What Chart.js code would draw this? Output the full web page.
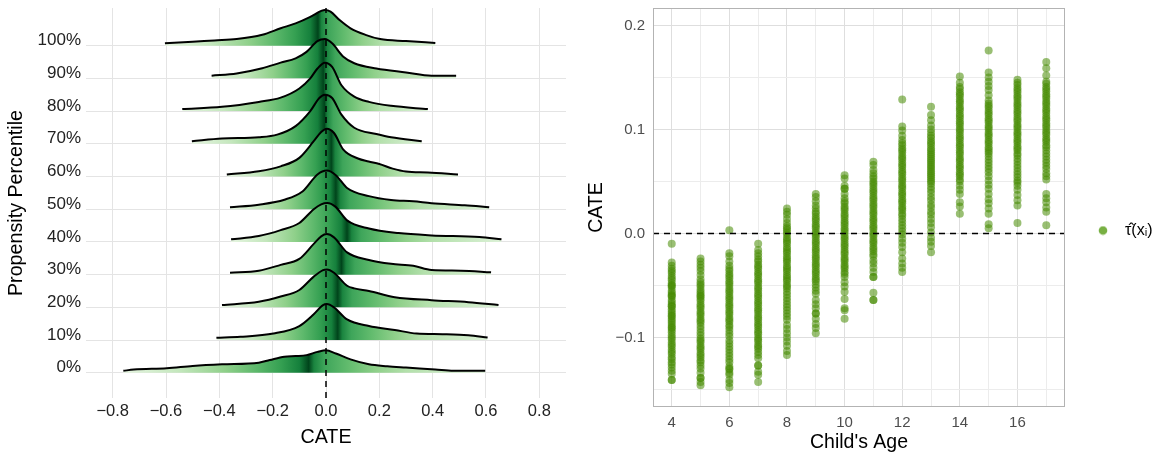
<!DOCTYPE html>
<html>
<head>
<meta charset="utf-8">
<script src="https://cdn.jsdelivr.net/npm/chart.js@4.4.1/dist/chart.umd.min.js"></script>
<style>
  html, body { margin: 0; padding: 0; background: #fff; }
  #wrap { position: relative; width: 1158px; height: 453px; }
  #ridgeBox { position: absolute; left: 0; top: 0; width: 580px; height: 453px; }
  #ageBox { position: absolute; left: 580px; top: 0; width: 578px; height: 453px; }
</style>
</head>
<body>
<div id="wrap">
  <div id="ridgeBox"><canvas id="ridgeChart" width="580" height="453"></canvas></div>
  <div id="ageBox"><canvas id="ageChart" width="578" height="453"></canvas></div>
</div>
<script>
Chart.defaults.font.family = "'Liberation Sans', Arial, sans-serif";
Chart.defaults.animation = false;

// ---------- left panel: CATE by propensity percentile ----------
const ridgeLabels = ['0%', '10%', '20%', '30%', '40%', '50%', '60%', '70%', '80%', '90%', '100%'];
const cateTicks = [-0.8, -0.6, -0.4, -0.2, 0, 0.2, 0.4, 0.6, 0.8];

// [CATE, density height] per ridge, height in units of the gap between ridges
const ridge0 = [[-0.76, 0.06], [-0.721, 0.10], [-0.597, 0.14], [-0.50, 0.21], [-0.39, 0.26], [-0.252, 0.31], [-0.211, 0.39], [-0.156, 0.49], [-0.114, 0.51], [-0.073, 0.54], [-0.032, 0.64], [0.0, 0.69], [0.037, 0.59], [0.092, 0.41], [0.161, 0.26], [0.23, 0.20], [0.30, 0.16], [0.41, 0.10], [0.478, 0.06], [0.597, 0.06]];
const ridge10 = [[-0.411, 0.07], [-0.321, 0.10], [-0.197, 0.20], [-0.10, 0.43], [-0.046, 0.79], [-0.011, 1.07], [0.003, 1.10], [0.03, 1.00], [0.079, 0.63], [0.161, 0.43], [0.258, 0.31], [0.34, 0.20], [0.437, 0.18], [0.534, 0.15], [0.606, 0.08]];
const ridge20 = [[-0.39, 0.07], [-0.252, 0.17], [-0.17, 0.33], [-0.10, 0.53], [-0.046, 0.94], [-0.011, 1.14], [0.003, 1.16], [0.03, 1.06], [0.079, 0.66], [0.106, 0.58], [0.161, 0.50], [0.258, 0.31], [0.396, 0.22], [0.534, 0.16], [0.647, 0.07]];
const ridge30 = [[-0.36, 0.06], [-0.252, 0.12], [-0.17, 0.30], [-0.10, 0.48], [-0.046, 0.94], [-0.018, 1.17], [0.003, 1.24], [0.03, 1.14], [0.079, 0.68], [0.161, 0.45], [0.244, 0.33], [0.327, 0.27], [0.396, 0.14], [0.506, 0.12], [0.619, 0.07]];
const ridge40 = [[-0.356, 0.08], [-0.252, 0.18], [-0.17, 0.36], [-0.10, 0.58], [-0.046, 1.00], [-0.018, 1.15], [0.005, 1.19], [0.035, 1.08], [0.079, 0.66], [0.161, 0.41], [0.272, 0.27], [0.396, 0.20], [0.575, 0.15], [0.658, 0.08]];
const ridge50 = [[-0.36, 0.06], [-0.252, 0.14], [-0.156, 0.29], [-0.087, 0.55], [-0.032, 1.06], [0.003, 1.18], [0.037, 1.04], [0.079, 0.65], [0.161, 0.40], [0.244, 0.28], [0.327, 0.24], [0.396, 0.18], [0.52, 0.12], [0.612, 0.06]];
const ridge60 = [[-0.372, 0.06], [-0.252, 0.16], [-0.17, 0.31], [-0.10, 0.57], [-0.046, 1.08], [-0.018, 1.36], [0.003, 1.46], [0.03, 1.33], [0.065, 0.82], [0.12, 0.55], [0.16, 0.46], [0.20, 0.38], [0.25, 0.24], [0.30, 0.15], [0.382, 0.12], [0.495, 0.06]];
const ridge70 = [[-0.503, 0.08], [-0.39, 0.16], [-0.252, 0.20], [-0.183, 0.28], [-0.114, 0.54], [-0.059, 1.00], [-0.025, 1.40], [-0.004, 1.50], [0.023, 1.40], [0.058, 0.89], [0.106, 0.49], [0.189, 0.30], [0.244, 0.20], [0.359, 0.08]];
const ridge80 = [[-0.539, 0.06], [-0.39, 0.13], [-0.252, 0.28], [-0.17, 0.41], [-0.10, 0.69], [-0.059, 1.00], [-0.032, 1.30], [-0.004, 1.48], [0.023, 1.35], [0.058, 0.79], [0.106, 0.44], [0.161, 0.28], [0.244, 0.16], [0.382, 0.06]];
const ridge90 = [[-0.429, 0.08], [-0.335, 0.15], [-0.239, 0.31], [-0.17, 0.48], [-0.114, 0.61], [-0.073, 0.81], [-0.032, 1.14], [-0.004, 1.20], [0.023, 1.07], [0.065, 0.66], [0.106, 0.46], [0.189, 0.30], [0.30, 0.18], [0.396, 0.08], [0.488, 0.08]];
const ridge100 = [[-0.604, 0.07], [-0.50, 0.12], [-0.418, 0.16], [-0.335, 0.20], [-0.239, 0.33], [-0.17, 0.53], [-0.114, 0.68], [-0.059, 0.88], [-0.018, 1.06], [-0.004, 1.09], [0.017, 1.04], [0.051, 0.78], [0.092, 0.53], [0.148, 0.33], [0.203, 0.20], [0.30, 0.14], [0.41, 0.08]];

// where each ridge's fill is darkest
const ridgeMedians = [-0.065, 0.044, 0.044, 0.058, 0.079, 0.037, 0.02, -0.006, -0.01, -0.01, -0.03];

const ridges = [ridge0, ridge10, ridge20, ridge30, ridge40, ridge50, ridge60, ridge70, ridge80, ridge90, ridge100];

// green ramp: light tail -> dark median -> light tail
const leftStops = [[0, '#e6f5e1'], [0.3, '#c4e7bd'], [0.55, '#8fd08a'], [0.72, '#5cb86b'], [0.85, '#35a052'], [0.95, '#15803c'], [1, '#00441b']];
const rightStops = [[0, '#00441b'], [0.03, '#1a843f'], [0.09, '#3ea55a'], [0.22, '#61bb6d'], [0.38, '#8fd08a'], [0.55, '#b3e0ab'], [1, '#dcf1d7']];

const xMinL = -0.9, xMaxL = 0.9, yMinL = -0.77, yMaxL = 11.15;

function fmtCate(v) {
  return (v < 0 ? '\u2212' : '') + Math.abs(v).toFixed(1);
}

function ridgeFill(i) {
  return (context) => {
    const chart = context.chart;
    const xs = chart.scales.x;
    if (!chart.chartArea || !xs) return '#74c476';
    const pts = ridges[i];
    const x0 = xs.getPixelForValue(pts[0][0]);
    const x1 = xs.getPixelForValue(pts[pts.length - 1][0]);
    const xm = xs.getPixelForValue(ridgeMedians[i]);
    const span = x1 - x0;
    const g = chart.ctx.createLinearGradient(x0, 0, x1, 0);
    leftStops.forEach(([f, c]) => g.addColorStop(((xm - x0) * f) / span, c));
    rightStops.forEach(([f, c]) => g.addColorStop((xm - x0 + (x1 - xm) * f) / span, c));
    return g;
  };
}

// vertical axes: drop the half-label padding Chart.js reserves at the ends
function noEndPadding(s) {
  s.paddingTop = 0;
  s.paddingBottom = 0;
}

const ridgeSets = ridges.map((pts, i) => ({
  data: pts.map(([x, h]) => ({ x: x, y: i + h })),
  borderColor: '#000000',
  borderWidth: 2,
  pointRadius: 0,
  cubicInterpolationMode: 'monotone',
  fill: { value: i },
  backgroundColor: ridgeFill(i)
}));

const zeroLineV = {
  data: [{ x: 0, y: yMinL }, { x: 0, y: yMaxL }],
  borderColor: '#000000',
  borderWidth: 1.5,
  borderDash: [6, 5],
  pointRadius: 0,
  fill: false
};

new Chart(document.getElementById('ridgeChart'), {
  type: 'line',
  data: { datasets: [zeroLineV, ...ridgeSets] },
  options: {
    responsive: false,
    animation: false,
    layout: { padding: { left: 0, right: 14, top: 8, bottom: 0 } },
    plugins: { legend: { display: false }, tooltip: { enabled: false } },
    scales: {
      x: {
        type: 'linear',
        min: xMinL,
        max: xMaxL,
        afterBuildTicks: s => { s.ticks = cateTicks.map(v => ({ value: v })); },
        afterFit: s => { s.height = 55; },
        ticks: { padding: 4, color: '#222222', font: { size: 16.5 }, maxRotation: 0, autoSkip: false, callback: v => fmtCate(v) },
        grid: { color: '#e4e4e4', lineWidth: 1, drawTicks: false },
        border: { display: false },
        title: { display: true, text: 'CATE', color: '#000000', font: { size: 19.7 }, padding: { top: 0, bottom: 4 } }
      },
      y: {
        type: 'linear',
        min: yMinL,
        max: yMaxL,
        afterBuildTicks: s => { s.ticks = ridgeLabels.map((_, i) => ({ value: i })); },
        afterFit: s => { s.width = 86; noEndPadding(s); },
        ticks: { padding: 5, color: '#222222', font: { size: 17 }, labelOffset: -5, callback: (v, i) => ridgeLabels[i] },
        grid: { color: '#e4e4e4', lineWidth: 1, drawTicks: false },
        border: { display: false },
        title: { display: true, text: 'Propensity Percentile', color: '#000000', font: { size: 19.7 }, padding: { top: 5, bottom: 0 } }
      }
    }
  }
});

// ---------- right panel: CATE by child's age ----------
const ages = [4, 5, 6, 7, 8, 9, 10, 11, 12, 13, 14, 15, 16, 17];
const ageLabelTicks = [4, 6, 8, 10, 12, 14, 16];
const cateMajorTicks = [-0.1, 0, 0.1, 0.2];
const cateAllTicks = [-0.15, -0.1, -0.05, 0, 0.05, 0.1, 0.15, 0.2];

const cateAge4 = [-0.010, -0.028, -0.031, -0.034, -0.036, -0.038, -0.041, -0.043, -0.045, -0.048, -0.050, -0.050, -0.052, -0.055, -0.057, -0.059, -0.060, -0.061, -0.064, -0.066, -0.068, -0.070, -0.070, -0.073, -0.075, -0.077, -0.079, -0.080, -0.082, -0.084, -0.086, -0.088, -0.090, -0.091, -0.093, -0.095, -0.098, -0.100, -0.102, -0.105, -0.107, -0.109, -0.112, -0.114, -0.116, -0.119, -0.121, -0.124, -0.126, -0.129, -0.132, -0.135, -0.141, -0.141];
const cateAge5 = [-0.024, -0.027, -0.030, -0.033, -0.036, -0.040, -0.044, -0.047, -0.049, -0.051, -0.054, -0.056, -0.058, -0.060, -0.061, -0.063, -0.065, -0.068, -0.070, -0.072, -0.075, -0.077, -0.079, -0.082, -0.084, -0.086, -0.089, -0.092, -0.095, -0.098, -0.101, -0.103, -0.105, -0.108, -0.110, -0.112, -0.115, -0.117, -0.119, -0.122, -0.124, -0.127, -0.130, -0.134, -0.139, -0.139, -0.143, -0.146];
const cateAge6 = [0.003, -0.019, -0.022, -0.027, -0.031, -0.034, -0.036, -0.039, -0.041, -0.043, -0.046, -0.048, -0.050, -0.053, -0.055, -0.057, -0.060, -0.062, -0.064, -0.067, -0.069, -0.071, -0.074, -0.076, -0.078, -0.081, -0.083, -0.085, -0.088, -0.090, -0.093, -0.096, -0.099, -0.103, -0.106, -0.109, -0.112, -0.115, -0.118, -0.121, -0.124, -0.128, -0.130, -0.131, -0.134, -0.136, -0.141, -0.144, -0.148];
const cateAge7 = [-0.010, -0.016, -0.019, -0.022, -0.025, -0.027, -0.030, -0.032, -0.034, -0.037, -0.039, -0.041, -0.044, -0.046, -0.048, -0.051, -0.053, -0.055, -0.058, -0.060, -0.062, -0.065, -0.067, -0.069, -0.072, -0.074, -0.076, -0.079, -0.081, -0.083, -0.086, -0.088, -0.090, -0.093, -0.095, -0.097, -0.100, -0.102, -0.104, -0.107, -0.109, -0.111, -0.114, -0.117, -0.120, -0.127, -0.127, -0.133, -0.136, -0.143];
const cateAge8 = [0.024, 0.021, 0.018, 0.014, 0.010, 0.007, 0.005, 0.003, 0.001, -0.001, -0.004, -0.006, -0.008, -0.010, -0.013, -0.015, -0.017, -0.019, -0.022, -0.024, -0.026, -0.028, -0.031, -0.033, -0.035, -0.037, -0.040, -0.042, -0.044, -0.046, -0.049, -0.051, -0.053, -0.056, -0.059, -0.062, -0.065, -0.068, -0.071, -0.074, -0.077, -0.080, -0.083, -0.088, -0.092, -0.096, -0.100, -0.104, -0.108, -0.113, -0.117];
const cateAge9 = [0.038, 0.035, 0.031, 0.027, 0.024, 0.021, 0.019, 0.016, 0.014, 0.012, 0.009, 0.007, 0.005, 0.002, 0.000, -0.002, -0.004, -0.007, -0.009, -0.011, -0.014, -0.016, -0.018, -0.021, -0.023, -0.025, -0.028, -0.030, -0.032, -0.035, -0.037, -0.039, -0.042, -0.044, -0.046, -0.049, -0.052, -0.055, -0.058, -0.064, -0.068, -0.072, -0.077, -0.077, -0.082, -0.087, -0.091, -0.096];
const cateAge10 = [0.056, 0.053, 0.046, 0.043, 0.043, 0.038, 0.034, 0.031, 0.029, 0.026, 0.024, 0.022, 0.019, 0.017, 0.015, 0.012, 0.010, 0.008, 0.005, 0.003, 0.001, -0.002, -0.004, -0.006, -0.009, -0.011, -0.013, -0.016, -0.018, -0.020, -0.023, -0.025, -0.027, -0.030, -0.032, -0.034, -0.037, -0.039, -0.042, -0.047, -0.051, -0.056, -0.063, -0.072, -0.074, -0.082];
const cateAge11 = [0.069, 0.066, 0.061, 0.058, 0.055, 0.053, 0.050, 0.048, 0.046, 0.043, 0.041, 0.039, 0.036, 0.034, 0.032, 0.029, 0.027, 0.025, 0.022, 0.020, 0.018, 0.015, 0.013, 0.011, 0.008, 0.006, 0.004, 0.001, -0.001, -0.003, -0.006, -0.008, -0.010, -0.013, -0.015, -0.017, -0.020, -0.022, -0.026, -0.029, -0.033, -0.037, -0.042, -0.042, -0.057, -0.064, -0.064];
const cateAge12 = [0.129, 0.103, 0.099, 0.094, 0.090, 0.087, 0.085, 0.082, 0.080, 0.078, 0.075, 0.073, 0.071, 0.068, 0.066, 0.064, 0.061, 0.059, 0.057, 0.054, 0.052, 0.050, 0.047, 0.045, 0.043, 0.040, 0.038, 0.036, 0.033, 0.031, 0.029, 0.026, 0.024, 0.022, 0.019, 0.017, 0.014, 0.011, 0.008, 0.005, 0.002, -0.001, -0.005, -0.009, -0.013, -0.018, -0.024, -0.029, -0.033, -0.037];
const cateAge13 = [0.122, 0.114, 0.109, 0.104, 0.100, 0.097, 0.094, 0.092, 0.089, 0.087, 0.085, 0.082, 0.080, 0.078, 0.076, 0.074, 0.072, 0.070, 0.068, 0.066, 0.064, 0.062, 0.060, 0.058, 0.056, 0.054, 0.052, 0.050, 0.048, 0.045, 0.042, 0.039, 0.035, 0.032, 0.028, 0.025, 0.021, 0.018, 0.014, 0.010, 0.006, 0.001, -0.004, -0.008, -0.012, -0.018];
const cateAge14 = [0.151, 0.145, 0.141, 0.139, 0.136, 0.134, 0.132, 0.129, 0.127, 0.125, 0.122, 0.120, 0.118, 0.115, 0.113, 0.111, 0.108, 0.106, 0.104, 0.101, 0.099, 0.097, 0.094, 0.092, 0.090, 0.087, 0.085, 0.083, 0.080, 0.078, 0.076, 0.073, 0.071, 0.069, 0.066, 0.064, 0.062, 0.059, 0.057, 0.055, 0.052, 0.050, 0.046, 0.042, 0.038, 0.030, 0.026, 0.019];
const cateAge15 = [0.176, 0.155, 0.150, 0.146, 0.142, 0.138, 0.133, 0.128, 0.125, 0.123, 0.121, 0.118, 0.116, 0.114, 0.111, 0.109, 0.107, 0.104, 0.102, 0.100, 0.097, 0.095, 0.093, 0.090, 0.088, 0.086, 0.083, 0.081, 0.079, 0.077, 0.074, 0.071, 0.068, 0.065, 0.062, 0.059, 0.055, 0.051, 0.047, 0.043, 0.038, 0.033, 0.029, 0.024, 0.019, 0.009, 0.005];
const cateAge16 = [0.148, 0.145, 0.143, 0.140, 0.138, 0.136, 0.133, 0.131, 0.129, 0.126, 0.124, 0.122, 0.119, 0.117, 0.115, 0.112, 0.110, 0.108, 0.105, 0.103, 0.101, 0.098, 0.096, 0.094, 0.091, 0.089, 0.087, 0.084, 0.082, 0.080, 0.077, 0.075, 0.072, 0.069, 0.066, 0.063, 0.060, 0.057, 0.054, 0.051, 0.049, 0.046, 0.042, 0.037, 0.032, 0.027, 0.010];
const cateAge17 = [0.165, 0.159, 0.152, 0.146, 0.144, 0.141, 0.139, 0.137, 0.134, 0.132, 0.130, 0.127, 0.125, 0.123, 0.120, 0.118, 0.116, 0.113, 0.111, 0.109, 0.106, 0.104, 0.102, 0.099, 0.097, 0.095, 0.092, 0.090, 0.088, 0.085, 0.083, 0.080, 0.077, 0.074, 0.071, 0.068, 0.065, 0.062, 0.058, 0.055, 0.052, 0.038, 0.034, 0.030, 0.025, 0.021, 0.008];

const cateByAge = [cateAge4, cateAge5, cateAge6, cateAge7, cateAge8, cateAge9, cateAge10, cateAge11, cateAge12, cateAge13, cateAge14, cateAge15, cateAge16, cateAge17];
const legendLabel = 'τ\u0302(x\u1d62)';

const xMinR = 3.35, xMaxR = 17.65, yMinR = -0.167, yMaxR = 0.217;

const scatterPoints = [];
ages.forEach((age, i) => {
  cateByAge[i].forEach(v => scatterPoints.push({ x: age, y: v }));
});

// legend dot, shifted left inside its image so the text sits further off
const legendDot = document.createElement('canvas');
legendDot.width = 30;
legendDot.height = 10;
(function () {
  const c = legendDot.getContext('2d');
  c.fillStyle = '#78b043';
  c.beginPath();
  c.arc(8, 5, 4.3, 0, Math.PI * 2);
  c.fill();
})();

const panelBorder = {
  id: 'panelBorder',
  afterDraw(chart) {
    const { ctx, chartArea: a } = chart;
    ctx.save();
    ctx.strokeStyle = '#b3b3b3';
    ctx.lineWidth = 1;
    ctx.strokeRect(a.left + 0.5, a.top + 0.5, a.right - a.left - 1, a.bottom - a.top - 1);
    ctx.restore();
  }
};

new Chart(document.getElementById('ageChart'), {
  type: 'scatter',
  data: {
    datasets: [
      {
        label: 'zero',
        data: [{ x: xMinR, y: 0 }, { x: xMaxR, y: 0 }],
        showLine: true,
        borderColor: '#000000',
        borderWidth: 1.5,
        borderDash: [6, 5],
        pointRadius: 0
      },
      {
        label: legendLabel,
        data: scatterPoints,
        backgroundColor: 'rgba(69, 139, 0, 0.55)',
        borderWidth: 0,
        pointRadius: 4
      }
    ]
  },
  plugins: [panelBorder],
  options: {
    responsive: false,
    animation: false,
    layout: { padding: { left: 0, right: 0, top: 8, bottom: 0 } },
    plugins: {
      tooltip: { enabled: false },
      legend: {
        position: 'right',
        maxWidth: 93,
        labels: {
          usePointStyle: true,
          boxWidth: 14,
          boxHeight: 14,
          padding: 38,
          color: '#1a1a1a',
          font: { size: 16 },
          generateLabels: () => [{
            text: legendLabel,
            fillStyle: '#78b043',
            strokeStyle: '#78b043',
            lineWidth: 0,
            pointStyle: legendDot,
            hidden: false,
            datasetIndex: 1
          }]
        }
      }
    },
    scales: {
      x: {
        type: 'linear',
        min: xMinR,
        max: xMaxR,
        afterBuildTicks: s => { s.ticks = ages.map(v => ({ value: v })); },
        afterFit: s => { s.height = 46; },
        ticks: {
          padding: 7, color: '#4d4d4d', font: { size: 15 }, autoSkip: false, maxRotation: 0,
          callback: v => ageLabelTicks.includes(v) ? String(v) : ''
        },
        grid: {
          drawTicks: false,
          lineWidth: 1,
          color: ctx => ageLabelTicks.includes(ctx.tick.value) ? '#dedede' : '#ececec'
        },
        border: { display: false },
        title: { display: true, text: "Child's Age", color: '#000000', font: { size: 19.5 }, padding: { top: 0, bottom: -1 } }
      },
      y: {
        type: 'linear',
        min: yMinR,
        max: yMaxR,
        afterBuildTicks: s => { s.ticks = cateAllTicks.map(v => ({ value: v })); },
        afterFit: s => { s.width = 73; noEndPadding(s); },
        ticks: {
          padding: 8, color: '#4d4d4d', font: { size: 15 },
          callback: v => cateMajorTicks.includes(v) ? fmtCate(v) : ''
        },
        grid: {
          drawTicks: false,
          lineWidth: 1,
          color: ctx => cateMajorTicks.includes(ctx.tick.value) ? '#dedede' : '#ececec'
        },
        border: { display: false },
        title: { display: true, text: 'CATE', color: '#000000', font: { size: 19.5 }, padding: { top: 5, bottom: 0 } }
      }
    }
  }
});
</script>
</body>
</html>
